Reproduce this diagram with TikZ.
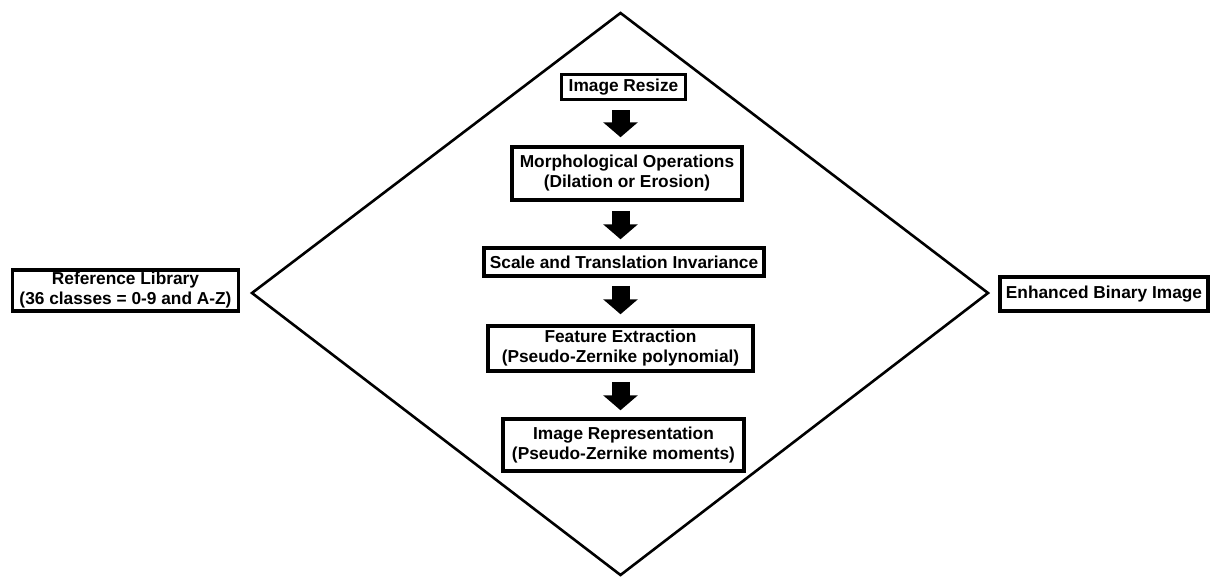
\documentclass[tikz,border=0pt]{standalone}
\usepackage{fontspec}
\setmainfont{Liberation Sans}
\usetikzlibrary{arrows.meta}
\begin{document}
\begin{tikzpicture}[x=1pt,y=-1pt,
  procbox/.style={draw=black, line width=3.5pt, fill=white, inner sep=0pt,
    align=center, font=\bfseries\fontsize{17.3}{20}\selectfont},
  blockarrow/.style={line width=18pt, -{Triangle[length=15pt,width=34pt]}},
  diamondline/.style={line width=2.6pt, line join=miter}]
\useasboundingbox (0,0) rectangle (1212,576);
% diamond
\coordinate (dt) at (620.5,13);
\coordinate (dr) at (988,293);
\coordinate (db) at (620.5,575);
\coordinate (dl) at (252,293);
\draw[diamondline] (dt) -- (dr) -- (db) -- (dl) -- cycle;
\coordinate (ax) at (620.5,0);
% boxes
\node[procbox, minimum width=124pt, minimum height=25pt] (resize) at (623.5,87) {Image Resize};
\node[procbox, minimum width=230pt, minimum height=53pt] (morph) at (627,173.5) {Morphological Operations\\(Dilation or Erosion)};
\node[procbox, minimum width=280pt, minimum height=28pt] (scale) at (624,262) {Scale and Translation Invariance};
\node[procbox, minimum width=265pt, minimum height=45pt] (feat) at (620.5,348.5) {Feature Extraction\\(Pseudo-Zernike polynomial)};
\node[procbox, minimum width=241pt, minimum height=52pt] (repr) at (623.5,445) {Image Representation\\(Pseudo-Zernike moments)};
\node[procbox, minimum width=226pt, minimum height=41pt] (reflib) at (125.5,290.5) {Reference Library\\(36 classes = 0-9 and A-Z)};
\node[procbox, minimum width=208pt, minimum height=34pt] (enh) at (1104,294) {Enhanced Binary Image};
% block arrows
\draw[blockarrow] ([yshift=-9pt]resize.south -| ax) -- ([yshift=8pt]morph.north -| ax);
\draw[blockarrow] ([yshift=-9pt]morph.south -| ax) -- ([yshift=7pt]scale.north -| ax);
\draw[blockarrow] ([yshift=-8pt]scale.south -| ax) -- ([yshift=10pt]feat.north -| ax);
\draw[blockarrow] ([yshift=-9pt]feat.south -| ax) -- ([yshift=7pt]repr.north -| ax);
\end{tikzpicture}
\end{document}
